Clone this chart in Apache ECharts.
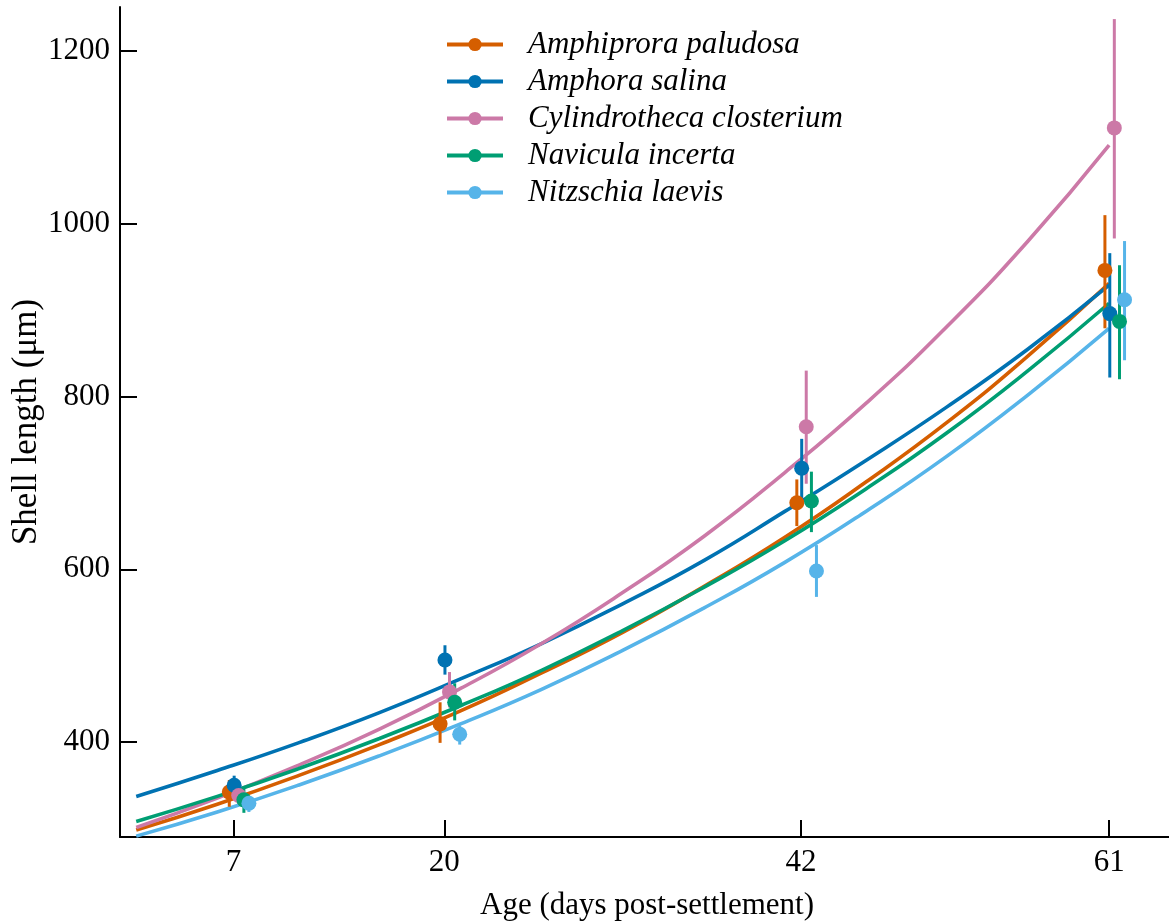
<!DOCTYPE html>
<html>
<head>
<meta charset="utf-8">
<script src="https://cdn.jsdelivr.net/npm/echarts@6/dist/echarts.min.js"></script>
<style>
  html, body { margin: 0; padding: 0; background: #ffffff; }
  #chart { width: 1169px; height: 922px; }
</style>
</head>
<body>
<div id="chart"></div>
<script>
// Species and their colours
const species = ['Amphiprora paludosa', 'Amphora salina', 'Cylindrotheca closterium', 'Navicula incerta', 'Nitzschia laevis'];
const colors = ['#D55E00', '#0072B2', '#CC79A7', '#009E73', '#56B4E9'];

// Sampling ages (days post-settlement)
const sampleDays = [7, 20, 42, 61];

// Mean shell length and error-bar limits (µm) at each sampling age
const meanAP = [342, 421, 677, 946];
const lowAP  = [325, 399, 650, 879];
const highAP = [356, 446, 704, 1010];

const meanAS = [350, 495, 717, 896];
const lowAS  = [340, 478, 682, 822];
const highAS = [361, 512, 751, 966];

const meanCC = [338, 458, 765, 1111];
const lowCC  = [328, 440, 699, 983];
const highCC = [350, 481, 830, 1237];

const meanNI = [333, 446, 679, 887];
const lowNI  = [318, 425, 643, 820];
const highNI = [346, 468, 713, 952];

const meanNL = [329, 409, 598, 912];
const lowNL  = [319, 397, 568, 842];
const highNL = [338, 419, 628, 980];

// Fitted growth curves, read every five days
const fitDays = [1, 6, 11, 16, 21, 26, 31, 36, 41, 46, 51, 56, 61];
const fitAP = [298, 328, 361, 397, 436, 480, 527, 580, 637, 701, 770, 847, 931];
const fitAS = [337, 367, 399, 434, 473, 514, 560, 610, 667, 726, 788, 855, 929];
const fitCC = [301, 335, 373, 415, 462, 514, 573, 638, 712, 792, 881, 980, 1091];
const fitNI = [308, 337, 369, 404, 442, 483, 529, 579, 633, 693, 758, 830, 908];
const fitNL = [291, 319, 350, 384, 421, 461, 506, 555, 608, 667, 731, 802, 879];

// Axis ticks
const xTicks = [7, 20, 42, 61];
const yTicks = [400, 600, 800, 1000, 1200];

const means = [meanAP, meanAS, meanCC, meanNI, meanNL];
const lows = [lowAP, lowAS, lowCC, lowNI, lowNL];
const highs = [highAP, highAS, highCC, highNI, highNL];
const fits = [fitAP, fitAS, fitCC, fitNI, fitNL];

// Horizontal dodge (days) so the error bars of each species sit side by side
const dodge = [-0.26, 0.04, 0.32, 0.64, 0.95];

const serif = 'Liberation Serif';
const series = [];

// Fitted curves (first, so the legend takes its icon from them)
species.forEach((name, i) => {
  series.push({
    name: name,
    type: 'line',
    data: fitDays.map((d, k) => [d, fits[i][k]]),
    smooth: true,
    symbol: 'circle',
    symbolSize: 15,
    showSymbol: false,
    silent: true,
    color: colors[i],
    lineStyle: { color: colors[i], width: 3.6 },
    z: 2
  });
});

// Error bars
species.forEach((name, i) => {
  series.push({
    name: name,
    type: 'custom',
    data: sampleDays.map((d, k) => [d + dodge[i], lows[i][k], highs[i][k]]),
    encode: { x: 0, y: [1, 2] },
    renderItem: (params, api) => {
      const x = api.value(0);
      const p1 = api.coord([x, api.value(1)]);
      const p2 = api.coord([x, api.value(2)]);
      return {
        type: 'line',
        shape: { x1: p1[0], y1: p1[1], x2: p2[0], y2: p2[1] },
        style: { stroke: colors[i], lineWidth: 3 }
      };
    },
    silent: true,
    z: 3
  });
});

// Mean points
species.forEach((name, i) => {
  series.push({
    name: name,
    type: 'scatter',
    data: sampleDays.map((d, k) => [d + dodge[i], means[i][k]]),
    symbol: 'circle',
    symbolSize: 15,
    itemStyle: { color: colors[i], opacity: 1 },
    silent: true,
    z: 4
  });
});

const axisLine = { show: true, onZero: false, lineStyle: { color: '#000', width: 2 } };

const option = {
  animation: false,
  backgroundColor: '#ffffff',
  grid: { left: 120, top: 7, width: 1054, bottom: 85, containLabel: false, outerBoundsMode: 'none' },
  legend: {
    data: species,
    orient: 'vertical',
    left: 440,
    top: 24,
    itemWidth: 56,
    itemHeight: 16.5,
    itemGap: 6,
    lineStyle: { width: 4 },
    textStyle: {
      fontFamily: serif,
      fontStyle: 'italic',
      fontSize: 31,
      lineHeight: 31,
      color: '#000',
      padding: [0, 0, 0, 20]
    },
    selectedMode: false
  },
  xAxis: {
    type: 'value',
    min: 0,
    max: 65,
    name: 'Age (days post-settlement)',
    nameLocation: 'middle',
    nameGap: 53,
    nameTextStyle: { fontFamily: serif, fontSize: 31, color: '#000' },
    axisLine: axisLine,
    axisTick: { show: true, inside: true, length: 17, customValues: xTicks, lineStyle: { color: '#000', width: 2 } },
    axisLabel: { customValues: xTicks, fontFamily: serif, fontSize: 31, color: '#000', margin: 10 },
    splitLine: { show: false }
  },
  yAxis: {
    type: 'value',
    min: 290,
    max: 1251,
    name: 'Shell length (μm)',
    nameLocation: 'middle',
    nameMoveOverlap: false,
    nameGap: 76,
    nameTextStyle: { fontFamily: serif, fontSize: 35, color: '#000' },
    axisLine: axisLine,
    axisTick: { show: true, inside: true, length: 17, customValues: yTicks, lineStyle: { color: '#000', width: 2 } },
    axisLabel: {
      customValues: yTicks,
      formatter: (v) => String(v),
      fontFamily: serif, fontSize: 31, color: '#000', margin: 10
    },
    splitLine: { show: false }
  },
  series: series
};

const chart = echarts.init(document.getElementById('chart'), null, { renderer: 'canvas' });
chart.setOption(option);
</script>
</body>
</html>
